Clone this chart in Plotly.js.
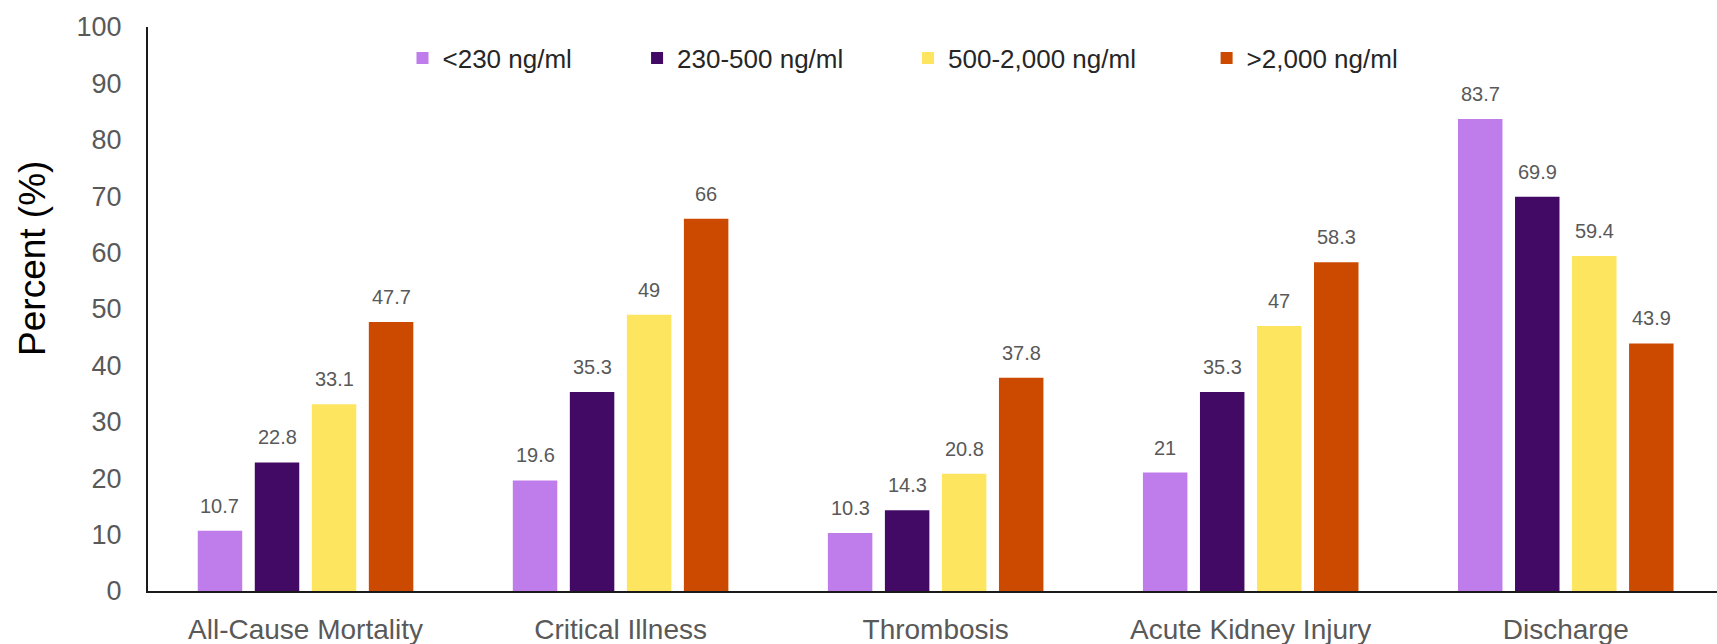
<!DOCTYPE html>
<html>
<head>
<meta charset="utf-8">
<script src="https://cdn.plot.ly/plotly-3.0.1.min.js"></script>
<style>
  html, body { margin: 0; padding: 0; background: #ffffff; }
  #chart { width: 1717px; height: 644px; }
</style>
</head>
<body>
<div id="chart"></div>
<script>
// Outcome categories along the x axis
const categories = ["All-Cause Mortality", "Critical Illness", "Thrombosis", "Acute Kidney Injury", "Discharge"];

// D-dimer groups (series names)
const seriesNames = ["<230 ng/ml", "230-500 ng/ml", "500-2,000 ng/ml", ">2,000 ng/ml"];

// Percent of patients per outcome, one array per D-dimer group
const lowValues      = [10.7, 19.6, 10.3, 21,   83.7];
const midValues      = [22.8, 35.3, 14.3, 35.3, 69.9];
const highValues     = [33.1, 49,   20.8, 47,   59.4];
const veryHighValues = [47.7, 66,   37.8, 58.3, 43.9];

const yTicks = [0, 10, 20, 30, 40, 50, 60, 70, 80, 90, 100];

const seriesValues = [lowValues, midValues, highValues, veryHighValues];
const seriesColors = ["#bf7deb", "#420a64", "#fde560", "#cc4a00"];

const BARGAP = 0.276;
const nSeries = seriesValues.length;

const fontFamily = "Liberation Sans, Arial, sans-serif";
const gray = "#595959";

// each group gets its own one-item legend so the entries can be spaced freely
const legendNames = ["legend", "legend2", "legend3", "legend4"];
const legendX = [0.1622, 0.3117, 0.4844, 0.6747];

const traces = seriesValues.map((vals, i) => ({
  type: "bar",
  name: seriesNames[i],
  x: categories,
  y: vals,
  marker: { color: seriesColors[i] },
  legend: legendNames[i],
  hoverinfo: "x+y+name"
}));

// value labels above each bar, placed at the bar's slot within its group
const annotations = [];
const slot = (1 - BARGAP) / nSeries;
seriesValues.forEach((vals, i) => {
  vals.forEach((v, j) => {
    annotations.push({
      x: j + (i - (nSeries - 1) / 2) * slot,
      y: v,
      xref: "x",
      yref: "y",
      text: String(v),
      showarrow: false,
      yanchor: "middle",
      yshift: 25,
      font: { family: fontFamily, size: 20, color: gray }
    });
  });
});

// vertical axis title
annotations.push({
  text: "Percent (%)",
  xref: "paper",
  yref: "paper",
  x: -0.0735,
  y: 0.59,
  xanchor: "center",
  yanchor: "middle",
  textangle: -90,
  showarrow: false,
  font: { family: fontFamily, size: 37, color: "#000000" }
});

const layout = {
  width: 1717,
  height: 644,
  margin: { l: 148, r: 0, t: 27, b: 53, pad: 0 },
  paper_bgcolor: "#ffffff",
  plot_bgcolor: "#ffffff",
  barmode: "group",
  bargap: BARGAP,
  bargroupgap: 0.22,
  showlegend: true,
  xaxis: {
    type: "category",
    range: [-0.5, 4.48],
    showgrid: false,
    zeroline: false,
    showline: true,
    linecolor: "#1a1a1a",
    linewidth: 2,
    ticks: "",
    ticklabelstandoff: 12,
    tickfont: { family: fontFamily, size: 28, color: gray },
    fixedrange: true
  },
  yaxis: {
    range: [0, 100],
    tickvals: yTicks,
    ticktext: yTicks.map(String),
    showgrid: false,
    zeroline: false,
    showline: true,
    linecolor: "#1a1a1a",
    linewidth: 2,
    ticks: "",
    ticklabelstandoff: 19,
    tickfont: { family: fontFamily, size: 27, color: gray },
    fixedrange: true
  },
  annotations: annotations
};

legendNames.forEach((ln, i) => {
  layout[ln] = {
    orientation: "h",
    xref: "paper",
    yref: "paper",
    x: legendX[i],
    y: 0.945,
    xanchor: "left",
    yanchor: "middle",
    bgcolor: "rgba(0,0,0,0)",
    borderwidth: 0,
    itemwidth: 30,
    font: { family: fontFamily, size: 26, color: "#262626" }
  };
});

Plotly.newPlot("chart", traces, layout, { displayModeBar: false, staticPlot: true });
</script>
</body>
</html>
